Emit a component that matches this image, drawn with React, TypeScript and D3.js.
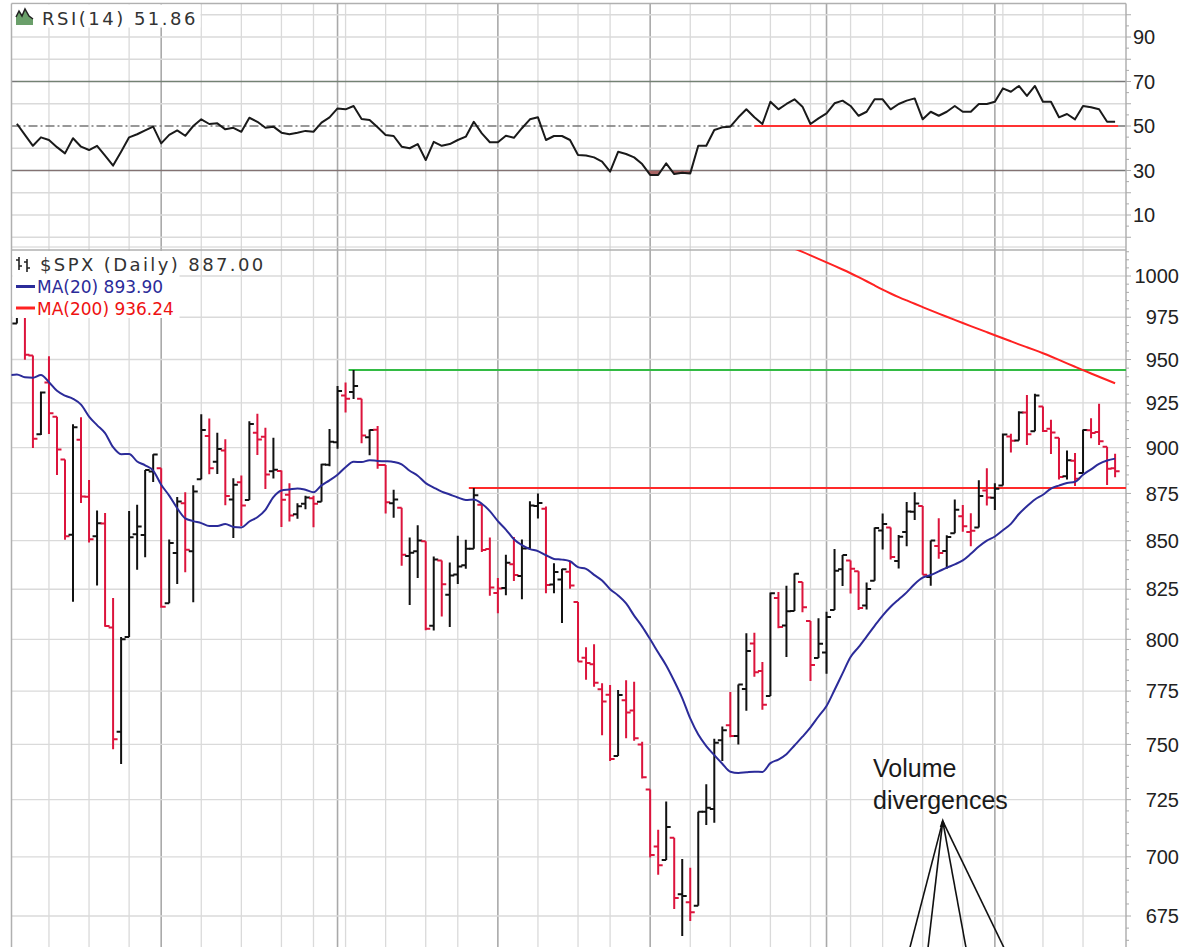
import React from "react";
import * as d3 from "d3";

// ---------- DATA ----------
const dates = [
  "2008-11-04","2008-11-05","2008-11-06","2008-11-07","2008-11-10","2008-11-11","2008-11-12","2008-11-13","2008-11-14","2008-11-17","2008-11-18","2008-11-19","2008-11-20","2008-11-21","2008-11-24","2008-11-25","2008-11-26","2008-11-28",
  "2008-12-01","2008-12-02","2008-12-03","2008-12-04","2008-12-05","2008-12-08","2008-12-09","2008-12-10","2008-12-11","2008-12-12","2008-12-15","2008-12-16","2008-12-17","2008-12-18","2008-12-19","2008-12-22","2008-12-23","2008-12-24","2008-12-26","2008-12-29","2008-12-30","2008-12-31",
  "2009-01-02","2009-01-05","2009-01-06","2009-01-07","2009-01-08","2009-01-09","2009-01-12","2009-01-13","2009-01-14","2009-01-15","2009-01-16","2009-01-20","2009-01-21","2009-01-22","2009-01-23","2009-01-26","2009-01-27","2009-01-28","2009-01-29","2009-01-30",
  "2009-02-02","2009-02-03","2009-02-04","2009-02-05","2009-02-06","2009-02-09","2009-02-10","2009-02-11","2009-02-12","2009-02-13","2009-02-17","2009-02-18","2009-02-19","2009-02-20","2009-02-23","2009-02-24","2009-02-25","2009-02-26","2009-02-27",
  "2009-03-02","2009-03-03","2009-03-04","2009-03-05","2009-03-06","2009-03-09","2009-03-10","2009-03-11","2009-03-12","2009-03-13","2009-03-16","2009-03-17","2009-03-18","2009-03-19","2009-03-20","2009-03-23","2009-03-24","2009-03-25","2009-03-26","2009-03-27","2009-03-30","2009-03-31",
  "2009-04-01","2009-04-02","2009-04-03","2009-04-06","2009-04-07","2009-04-08","2009-04-09","2009-04-13","2009-04-14","2009-04-15","2009-04-16","2009-04-17","2009-04-20","2009-04-21","2009-04-22","2009-04-23","2009-04-24","2009-04-27","2009-04-28","2009-04-29","2009-04-30",
  "2009-05-01","2009-05-04","2009-05-05","2009-05-06","2009-05-07","2009-05-08","2009-05-11","2009-05-12","2009-05-13","2009-05-14","2009-05-15","2009-05-18","2009-05-19","2009-05-20","2009-05-21","2009-05-22",
];

const opens = [
  971.31,1001.84,952.40,907.44,936.75,917.15,893.39,853.13,904.36,873.23,852.34,859.03,805.87,755.84,801.20,853.40,852.90,886.89,
  888.61,817.94,843.60,869.75,844.43,882.71,906.48,892.17,898.35,871.79,881.07,871.53,908.16,905.98,886.96,887.20,874.31,863.87,869.51,872.37,870.58,890.59,
  902.99,929.17,931.17,927.45,905.73,909.91,890.40,869.79,867.28,841.99,844.45,849.64,806.77,839.74,822.16,832.50,837.30,845.73,868.89,845.69,
  823.09,825.69,837.77,831.75,846.09,868.24,866.87,827.41,829.91,833.95,818.61,791.06,787.91,775.87,773.25,744.69,770.64,765.76,749.93,
  729.57,704.44,698.60,708.27,684.04,680.76,679.28,719.59,720.89,751.97,758.84,753.88,776.01,797.92,784.58,772.59,820.60,806.81,814.06,828.68,809.07,790.88,
  793.59,814.53,835.13,839.75,834.12,816.76,829.29,855.33,856.88,839.44,854.54,865.18,868.27,831.25,847.26,844.62,853.91,862.82,854.48,856.85,876.59,
  872.74,879.21,906.10,903.95,919.58,909.03,922.99,910.52,905.40,884.24,892.76,886.07,909.67,908.62,900.42,888.68,
];

const highs = [
  1007.51,1001.84,952.40,931.46,951.95,917.15,893.39,913.01,916.88,882.29,865.90,864.57,820.52,801.20,865.60,868.94,887.68,896.25,
  888.61,850.54,873.12,875.60,879.42,918.57,916.26,908.27,904.63,883.24,884.63,914.66,918.85,911.02,905.47,887.37,880.44,869.79,873.74,873.70,891.12,910.32,
  934.73,936.63,943.85,927.45,910.00,911.93,890.40,877.02,867.28,851.59,858.13,849.64,841.72,839.74,838.61,852.53,850.45,877.86,868.89,851.66,
  830.78,842.60,851.85,850.55,870.75,875.01,868.05,838.22,835.48,839.43,818.61,796.17,797.58,778.69,777.85,775.49,780.12,779.42,751.27,
  729.57,711.67,724.12,708.27,699.09,695.27,719.60,731.92,752.63,758.29,774.53,778.12,803.04,803.24,788.91,823.37,823.65,826.78,832.98,828.68,809.07,810.48,
  813.62,845.61,842.50,839.75,834.12,828.42,856.91,864.31,856.88,852.93,870.35,875.63,868.27,850.09,861.78,852.87,871.80,868.83,864.48,882.06,888.70,
  880.48,907.85,907.70,920.28,929.58,930.17,922.99,915.57,905.40,898.36,896.97,910.00,916.39,924.60,900.42,896.65,
];

const lows = [
  971.31,949.86,899.73,906.90,907.47,884.90,850.48,818.69,869.88,848.98,826.84,806.18,747.78,741.02,801.20,834.99,841.37,881.21,
  815.69,817.94,827.60,833.60,818.41,882.71,885.38,885.45,868.73,851.35,857.72,871.53,895.94,877.44,883.02,857.09,860.10,861.44,866.52,857.07,870.58,889.67,
  899.35,919.53,927.28,902.37,895.81,888.31,864.32,862.02,836.93,817.04,830.66,804.47,804.30,811.29,806.07,827.69,835.40,845.73,844.15,821.67,
  812.87,821.98,829.18,819.91,845.42,861.65,822.99,822.98,808.06,825.21,789.17,780.43,777.03,754.25,742.37,744.69,752.89,751.75,734.52,
  699.70,692.30,698.60,677.93,666.79,672.88,679.28,713.85,714.76,742.46,753.37,749.93,765.64,781.82,766.20,772.59,805.48,791.37,814.06,813.43,779.81,790.88,
  783.32,814.53,826.70,822.79,814.53,814.84,829.29,845.35,840.25,835.58,847.04,860.87,832.39,826.83,840.57,835.45,853.91,854.65,847.12,856.85,868.51,
  866.10,879.21,897.34,903.95,901.36,909.03,908.68,896.46,882.52,882.52,878.94,886.07,905.22,901.37,879.61,883.75,
];

const closes = [
  1005.75,952.77,904.88,930.99,919.21,898.95,852.30,911.29,873.29,850.75,859.12,806.58,752.44,800.03,851.81,857.39,887.68,896.24,
  816.21,848.81,870.74,845.22,876.07,909.70,888.67,899.24,873.59,879.73,868.57,913.18,904.42,885.28,887.88,871.63,863.16,868.15,872.80,869.42,890.64,903.25,
  931.80,927.45,934.70,906.65,909.73,890.35,870.26,871.79,842.62,843.74,850.12,805.22,840.24,827.50,831.95,836.57,845.71,874.09,845.14,825.88,
  825.44,838.51,832.23,845.85,868.60,869.89,827.16,833.74,835.19,826.84,789.17,788.42,778.94,770.05,743.33,773.14,764.90,752.83,735.09,
  700.82,696.33,712.87,682.55,683.38,676.53,719.60,721.36,750.74,756.55,753.89,778.12,794.35,784.04,768.54,822.92,806.12,813.88,832.86,815.94,787.53,797.87,
  811.08,834.38,842.50,835.48,815.55,825.16,856.56,858.73,841.50,852.06,865.30,869.60,832.39,850.08,843.55,851.92,866.23,857.51,855.16,873.64,872.81,
  877.52,907.24,903.80,919.53,907.39,929.23,909.24,908.35,883.92,893.07,882.88,909.71,908.13,903.47,888.33,887.00,
];

// closes before the first visible bar (Oct 7 – Nov 3, 2008), needed for MA(20)
const priorCloses = [
  996.23,984.94,909.92,899.22,1003.35,998.01,907.84,946.43,940.55,985.40,
  955.05,896.78,908.11,876.77,848.92,940.51,930.09,954.09,968.75,966.30,
];

// MA(200), starting at bar index 95
const ma200StartIndex = 95;
const ma200Values = [
  1021.0,1018.9,1016.9,1015.0,1012.8,1010.6,1008.4,1006.2,1004.0,1001.7,999.3,996.8,994.2,991.6,989.3,
  987.1,985.1,983.1,981.1,979.1,977.2,975.3,973.4,971.5,969.7,967.9,966.1,964.3,962.5,960.7,
  958.9,957.2,955.5,953.7,951.8,949.8,947.8,945.8,943.8,941.9,940.0,938.1,936.24,
];

// RSI(14)
const rsiValues = [
  51.0,46.0,41.1,44.9,43.7,40.5,37.7,44.5,40.7,39.2,41.1,36.7,32.2,38.4,44.9,46.3,48.0,49.7,
  42.2,46.0,48.0,45.6,50.0,53.0,50.9,51.2,48.5,49.2,47.4,53.7,51.9,49.2,49.7,47.0,46.3,47.0,47.8,47.4,51.5,53.9,
  57.9,57.5,59.0,53.1,52.7,49.4,46.0,45.5,40.7,40.0,41.9,34.7,42.9,41.1,41.9,43.7,45.2,51.9,46.7,42.7,
  42.7,45.6,44.7,49.0,53.0,53.9,43.7,45.5,45.5,43.7,37.0,36.7,35.9,34.0,29.5,38.4,37.4,35.9,32.9,
  28.0,28.0,33.2,28.4,29.0,28.7,41.1,41.1,48.2,49.4,49.7,53.9,57.5,53.9,50.9,60.9,57.5,59.9,62.0,58.7,50.9,53.4,
  55.7,60.2,61.4,59.0,54.6,56.4,62.0,62.0,57.5,59.9,61.4,62.4,53.0,56.4,54.6,56.4,59.0,56.4,56.4,59.9,59.9,
  60.9,66.9,65.4,68.0,63.5,68.0,60.9,60.9,53.9,55.4,53.0,59.0,58.4,57.5,51.9,51.86,
];

const priceTicks = [675, 700, 725, 750, 775, 800, 825, 850, 875, 900, 925, 950, 975, 1000];
const rsiTickLabels = [10, 30, 50, 70, 90];
const rsiGridValues = [0, 10, 20, 40, 60, 80, 90, 100];

const resistanceLevel = 943.85; // Jan 6 high
const resistanceFrom = 42;
const supportLevel = 877.86; // Jan 28 high
const supportFrom = 57;
const rsiSupportLevel = 50;
const rsiSupportFrom = 92;

const rsiLegend = "RSI(14) 51.86";
const priceLegend = "$SPX (Daily) 887.00";
const ma20Legend = "MA(20) 893.90";
const ma200Legend = "MA(200) 936.24";
const noteLines = ["Volume", "divergences"];
// annotation arrows: apex and far ends, as [bar index, price]
const noteApex: [number, number] = [115.5, 715.5];
const noteEnds: [number, number][] = [[109.7, 641], [112.9, 641], [119.6, 641], [126.3, 641]];

// ---------- LAYOUT ----------
const W = 1185, H = 947;
const L = 11.5, R = 1126;
const RSI_TOP = 3.5, RSI_BOTTOM = 247;
const P_TOP = 250, P_BOTTOM = 960;

const UP = "#111111";
const DOWN = "#dc143c";

export default function App() {
  const x = d3.scaleLinear().domain([0, dates.length - 1]).range([16.9, 1115.1]);
  const yP = d3.scaleLog().domain([1000, 675]).range([276, 916]);
  const yR = d3.scaleLinear().domain([0, 100]).range([237.25, 14.75]);

  const parse = d3.utcParse("%Y-%m-%d");
  const parsed = dates.map((d) => parse(d) as Date);
  const vgrid: { i: number; dark: boolean }[] = [];
  for (let i = 1; i < parsed.length; i++) {
    const a = parsed[i - 1], b = parsed[i];
    const monthStart = a.getUTCMonth() !== b.getUTCMonth();
    const weekStart = b.getUTCDay() <= a.getUTCDay() || +b - +a > 6 * 864e5;
    if (monthStart) vgrid.push({ i, dark: true });
    else if (weekStart) vgrid.push({ i, dark: false });
  }

  // bars
  const bars = closes.map((c, i) => {
    const prev = i === 0 ? priorCloses[priorCloses.length - 1] : closes[i - 1];
    const xi = x(i);
    const d = `M${xi},${yP(highs[i])}V${yP(lows[i])}M${xi - 4.5},${yP(opens[i])}H${xi}M${xi},${yP(c)}H${xi + 4.5}`;
    return { d, color: c >= prev ? UP : DOWN };
  });

  // MA(20)
  const all = priorCloses.concat(closes);
  const ma20: [number, number][] = [];
  for (let k = 19; k < all.length; k++) {
    const idx = k - priorCloses.length;
    ma20.push([idx, d3.mean(all.slice(k - 19, k + 1)) as number]);
  }
  const lineP = d3.line<[number, number]>().x((d) => x(d[0])).y((d) => yP(d[1])).curve(d3.curveMonotoneX);
  const ma20Path = lineP(ma20) as string;
  const ma200Path = d3
    .line<[number, number]>()
    .x((d) => x(d[0]))
    .y((d) => yP(d[1]))
    .curve(d3.curveBasis)(ma200Values.map((v, k) => [ma200StartIndex + k, v] as [number, number])) as string;

  const rsiPts = rsiValues.map((v, i) => [i, v] as [number, number]);
  const rsiLine = d3.line<[number, number]>().x((d) => x(d[0])).y((d) => yR(d[1]))(rsiPts) as string;
  const rsiLow = d3.area<[number, number]>().x((d) => x(d[0])).y0(yR(30)).y1((d) => yR(d[1]))(rsiPts) as string;
  const rsiHigh = d3.area<[number, number]>().x((d) => x(d[0])).y0(yR(70)).y1((d) => yR(d[1]))(rsiPts) as string;

  const minorPrice = d3.range(665, 1020, 5);
  const minorRsi = d3.range(0, 101, 5);

  const apex = [x(noteApex[0]), yP(noteApex[1])];

  const labelFont = "'Liberation Sans', Arial, sans-serif";

  return (
    <svg
      width={W}
      height={H}
      viewBox={`0 0 ${W} ${H}`}
      style={{ position: "absolute", left: 0, top: 0, background: "#fff", display: "block" }}
    >
      <defs>
        <clipPath id="clipRsi">
          <rect x={L} y={RSI_TOP} width={R - L} height={RSI_BOTTOM - RSI_TOP} />
        </clipPath>
        <clipPath id="clipRsiLow">
          <rect x={L} y={yR(30)} width={R - L} height={RSI_BOTTOM - yR(30)} />
        </clipPath>
        <clipPath id="clipRsiHigh">
          <rect x={L} y={RSI_TOP} width={R - L} height={yR(70) - RSI_TOP} />
        </clipPath>
        <clipPath id="clipPrice">
          <rect x={L} y={P_TOP} width={R - L} height={P_BOTTOM - P_TOP} />
        </clipPath>
      </defs>
      <rect x={0} y={0} width={W} height={H} fill="#fff" />

      {/* vertical grid */}
      {vgrid.map((g) => (
        <line
          key={"vg" + g.i}
          x1={x(g.i)}
          x2={x(g.i)}
          y1={RSI_TOP}
          y2={H}
          stroke={g.dark ? "#a9a9a9" : "#dadada"}
          strokeWidth={g.dark ? 1.6 : 1.3}
        />
      ))}

      {/* RSI panel grid */}
      {rsiGridValues.map((v) => (
        <line key={"rg" + v} x1={L} x2={R} y1={yR(v)} y2={yR(v)} stroke="#dadada" strokeWidth={1.3} />
      ))}
      <line x1={L} x2={R} y1={yR(70)} y2={yR(70)} stroke="#777" strokeWidth={1.6} />
      <line x1={L} x2={R} y1={yR(30)} y2={yR(30)} stroke="#777" strokeWidth={1.6} />
      <line x1={L} x2={R} y1={yR(50)} y2={yR(50)} stroke="#777" strokeWidth={1.4} strokeDasharray="9,3,2,3" />

      {/* Price panel grid */}
      {priceTicks.map((v) => (
        <line key={"pg" + v} x1={L} x2={R} y1={yP(v)} y2={yP(v)} stroke="#dadada" strokeWidth={1.3} />
      ))}

      {/* borders */}
      <line x1={L} x2={R} y1={RSI_TOP} y2={RSI_TOP} stroke="#b0b0b0" strokeWidth={1.5} />
      <line x1={L} x2={R} y1={RSI_BOTTOM} y2={RSI_BOTTOM} stroke="#d0d0d0" strokeWidth={1} />
      <line x1={L} x2={R} y1={P_TOP} y2={P_TOP} stroke="#b0b0b0" strokeWidth={1.5} />
      <line x1={L} x2={L} y1={RSI_TOP} y2={H} stroke="#b0b0b0" strokeWidth={1.5} />
      <line x1={R} x2={R} y1={RSI_TOP} y2={H} stroke="#b0b0b0" strokeWidth={1.5} />

      {/* right axis ticks */}
      {minorRsi.map((v) => (
        <line key={"rt" + v} x1={R} x2={R + (v % 10 === 0 ? 5 : 3)} y1={yR(v)} y2={yR(v)} stroke="#aaa" strokeWidth={1} />
      ))}
      {minorPrice.map((v) => (
        <line key={"pt" + v} x1={R} x2={R + (v % 25 === 0 ? 5 : 3)} y1={yP(v)} y2={yP(v)} stroke="#aaa" strokeWidth={1} />
      ))}

      {/* right axis labels */}
      {rsiTickLabels.map((v) => (
        <text key={"rl" + v} x={1133} y={yR(v)} dy="0.36em" fontFamily={labelFont} fontSize={20} fill="#222">
          {v}
        </text>
      ))}
      {priceTicks.map((v) => (
        <text key={"pl" + v} x={1179} y={yP(v)} dy="0.36em" textAnchor="end" fontFamily={labelFont} fontSize={20} fill="#222">
          {v}
        </text>
      ))}

      {/* RSI */}
      <g clipPath="url(#clipRsi)">
        <path d={rsiLow} fill="#a86464" clipPath="url(#clipRsiLow)" />
        <path d={rsiHigh} fill="#6aa56a" clipPath="url(#clipRsiHigh)" />
        <line
          x1={x(rsiSupportFrom)}
          x2={x(dates.length - 1) + 3}
          y1={yR(rsiSupportLevel)}
          y2={yR(rsiSupportLevel)}
          stroke="#ff3333"
          strokeWidth={2}
        />
        <path d={rsiLine} fill="none" stroke="#1a1a1a" strokeWidth={2} strokeLinejoin="round" />
      </g>

      {/* Price */}
      <g clipPath="url(#clipPrice)">
        <line x1={x(resistanceFrom) - 5} x2={R} y1={yP(resistanceLevel)} y2={yP(resistanceLevel)} stroke="#33bb44" strokeWidth={2} />
        <line x1={x(supportFrom) - 5} x2={R} y1={yP(supportLevel)} y2={yP(supportLevel)} stroke="#ff2a2a" strokeWidth={2} />
        {bars.map((b, i) => (
          <path key={"b" + i} d={b.d} fill="none" stroke={b.color} strokeWidth={2} />
        ))}
        <path d={ma20Path} fill="none" stroke="#2b2b99" strokeWidth={2} />
        <path d={ma200Path} fill="none" stroke="#ff2222" strokeWidth={2} />

        {/* annotation */}
        {noteEnds.map((e, k) => (
          <line key={"n" + k} x1={apex[0]} y1={apex[1]} x2={x(e[0])} y2={yP(e[1])} stroke="#111" strokeWidth={1.6} />
        ))}
        <path d={`M${apex[0]},${apex[1] - 3}L${apex[0] - 3},${apex[1] + 6}L${apex[0] + 3},${apex[1] + 6}Z`} fill="#111" />
        <text x={873} y={777} fontFamily={labelFont} fontSize={25} fill="#1a1a1a">
          {noteLines[0]}
        </text>
        <text x={873} y={808.5} fontFamily={labelFont} fontSize={25} fill="#1a1a1a">
          {noteLines[1]}
        </text>
      </g>

      {/* RSI legend */}
      <rect x={L + 1} y={RSI_TOP + 1} width={188} height={23} fill="#fff" />
      <path d="M16,25 L16,17 L19,11 L22,16 L25,9 L29,16 L33,19 L33,25 Z" fill="#6a9f6a" />
      <path d="M16,17 L19,11 L22,16 L25,9 L29,16 L33,19" fill="none" stroke="#222" strokeWidth={1.5} />
      <text x={42} y={25} fontFamily="'DejaVu Sans', Verdana, sans-serif" fontSize={18} letterSpacing={2.5} fill="#333">
        {rsiLegend}
      </text>

      {/* Price legend */}
      <rect x={L + 1} y={P_TOP + 1} width={167} height={67} fill="#fff" />
      <path d="M19,257V270M16,260H19M19,266H22M27,259V272M24,262H27M27,268H30" fill="none" stroke="#222" strokeWidth={1.6} />
      <text x={40} y={270.5} fontFamily="'DejaVu Sans', Verdana, sans-serif" fontSize={18} letterSpacing={2.4} fill="#333">
        {priceLegend}
      </text>
      <line x1={16} x2={35} y1={286.5} y2={286.5} stroke="#2b2b99" strokeWidth={3} />
      <text x={37} y={293} fontFamily="'DejaVu Sans', Verdana, sans-serif" fontSize={17} fill="#2b2b99">
        {ma20Legend}
      </text>
      <line x1={16} x2={35} y1={308} y2={308} stroke="#ff2222" strokeWidth={3} />
      <text x={37} y={315} fontFamily="'DejaVu Sans', Verdana, sans-serif" fontSize={17} fill="#ee1111">
        {ma200Legend}
      </text>
    </svg>
  );
}
